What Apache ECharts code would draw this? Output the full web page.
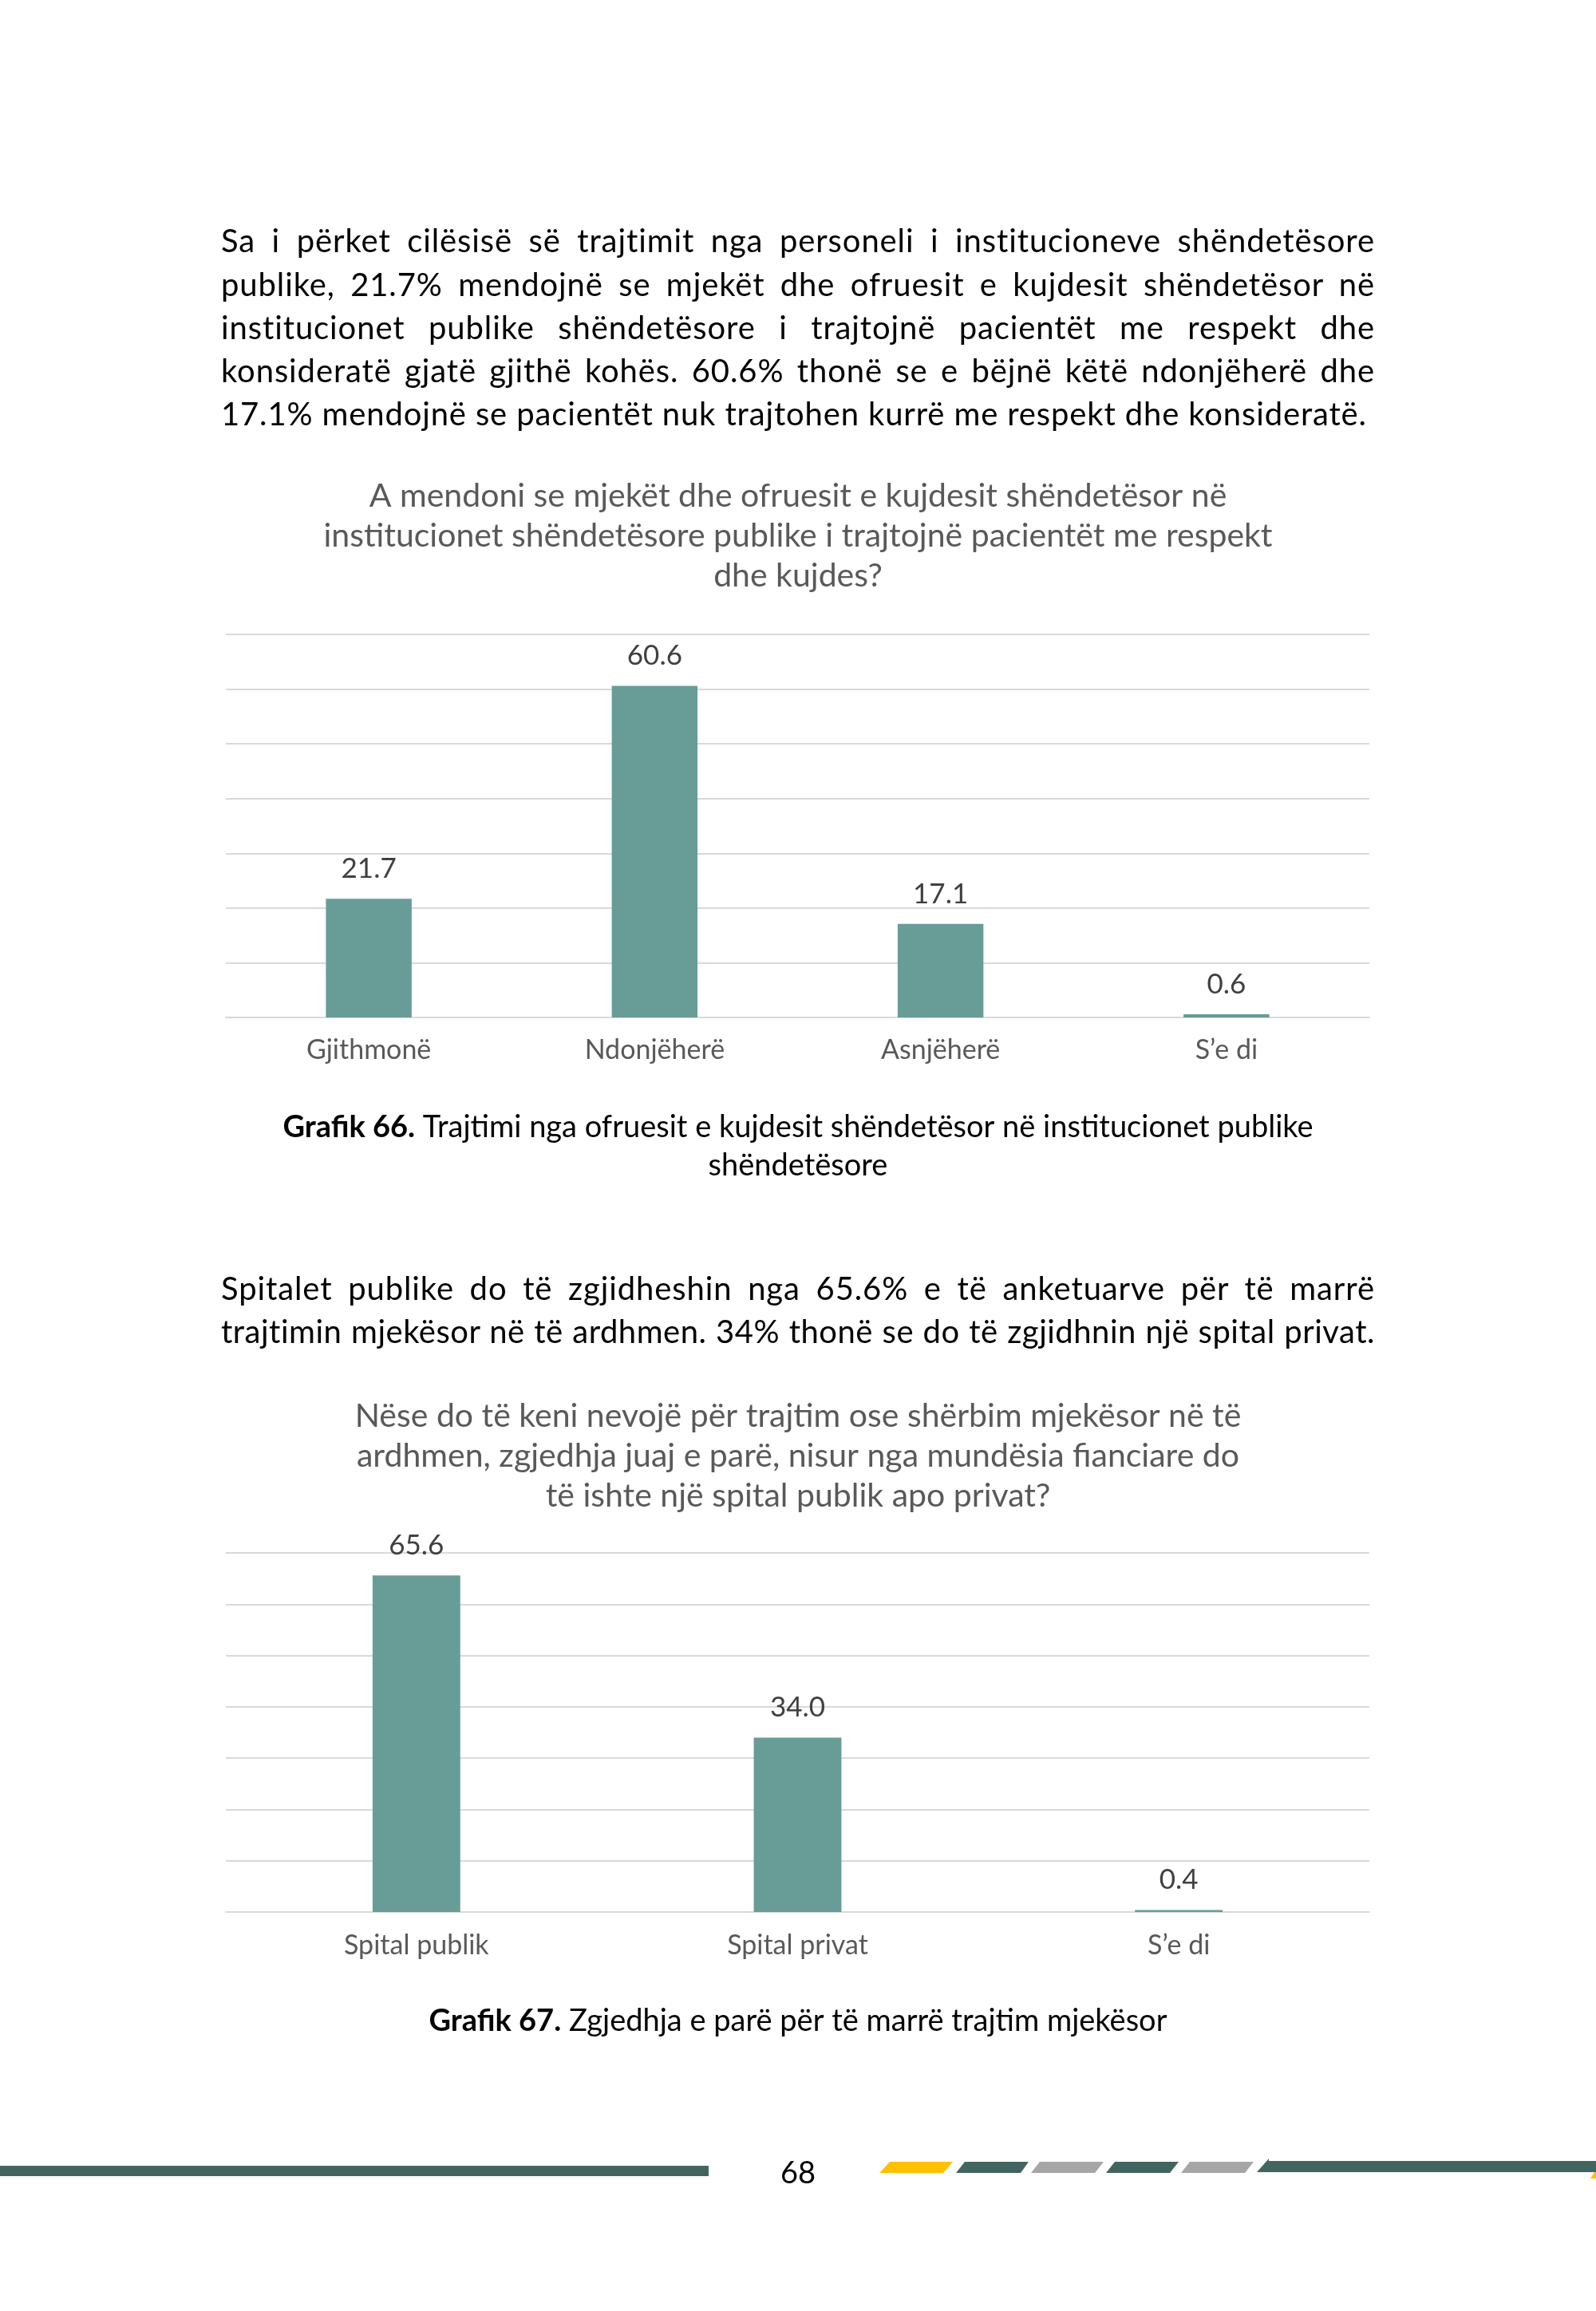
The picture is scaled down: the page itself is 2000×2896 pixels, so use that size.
<!DOCTYPE html>
<html>
<head>
<meta charset="utf-8">
<script src="https://cdn.jsdelivr.net/npm/echarts/dist/echarts.min.js"></script>
<style>
  html, body { margin: 0; padding: 0; background: #ffffff; }
  #page { position: relative; width: 2000px; height: 2896px; overflow: hidden; }
  #chart { position: absolute; left: 0; top: 0; width: 2000px; height: 2896px; }
  .ln { position: absolute; left: 277px; width: 1446px; height: 54px; line-height: 54px;
        font-family: Lato, "DejaVu Sans", sans-serif; font-size: 40px; color: #000;
        text-align: justify; text-align-last: justify; z-index: 2; white-space: nowrap; }
  .ln.last { text-align: left; text-align-last: left; }
  #meas { position: absolute; visibility: hidden; white-space: nowrap;
          font-family: Lato, "DejaVu Sans", sans-serif; font-size: 40px; letter-spacing: 0; }
</style>
</head>
<body>
<div id="page">
  <div id="chart"></div>
  <span id="meas"></span>
</div>
<script>
// ---------- data ----------
const para1 = [
  'Sa i përket cilësisë së trajtimit nga personeli i institucioneve shëndetësore',
  'publike, 21.7% mendojnë se mjekët dhe ofruesit e kujdesit shëndetësor në',
  'institucionet publike shëndetësore i trajtojnë pacientët me respekt dhe',
  'konsideratë gjatë gjithë kohës. 60.6% thonë se e bëjnë këtë ndonjëherë dhe',
  '17.1% mendojnë se pacientët nuk trajtohen kurrë me respekt dhe konsideratë.'
];
const para2 = [
  'Spitalet publike do të zgjidheshin nga 65.6% e të anketuarve për të marrë',
  'trajtimin mjekësor në të ardhmen. 34% thonë se do të zgjidhnin një spital privat.'
];
const title1 = 'A mendoni se mjekët dhe ofruesit e kujdesit shëndetësor në\ninstitucionet shëndetësore publike i trajtojnë pacientët me respekt\ndhe kujdes?';
const title2 = 'Nëse do të keni nevojë për trajtim ose shërbim mjekësor në të\nardhmen, zgjedhja juaj e parë, nisur nga mundësia fianciare do\ntë ishte një spital publik apo privat?';
const caption1Bold = 'Grafik 66.';
const caption1Text = ' Trajtimi nga ofruesit e kujdesit shëndetësor në institucionet publike\nshëndetësore';
const caption2Bold = 'Grafik 67.';
const caption2Text = ' Zgjedhja e parë për të marrë trajtim mjekësor';

const cats1 = ['Gjithmonë', 'Ndonjëherë', 'Asnjëherë', 'S’e di'];
const vals1 = [21.7, 60.6, 17.1, 0.6];
const cats2 = ['Spital publik', 'Spital privat', 'S’e di'];
const vals2 = [65.6, 34.0, 0.4];
const yMin = 0, yMax = 70, yStep = 10;
const pageNumber = '68';

// ---------- paragraphs (justified text) ----------
const page = document.getElementById('page');
const meas = document.getElementById('meas');
function addLines(lines, centers, lastPlain) {
  lines.forEach((t, i) => {
    meas.textContent = t;
    const w = meas.getBoundingClientRect().width;
    const n = t.length;
    const ls = Math.max(0, Math.min(0.9, (1436 - w) / n));
    const d = document.createElement('div');
    d.className = 'ln' + (lastPlain && i === lines.length - 1 ? ' last' : '');
    d.style.top = (centers[i] - 27) + 'px';
    d.style.letterSpacing = ls.toFixed(2) + 'px';
    d.textContent = t;
    page.appendChild(d);
  });
}
addLines(para1, [301, 356, 410, 464, 518], true);
addLines(para2, [1614, 1668], false);

// ---------- chart ----------
const FONT = 'Lato, "DejaVu Sans", sans-serif';
const BAR = '#679d96';
const GRID = '#d9d9d9';
const chart = echarts.init(document.getElementById('chart'), null, { renderer: 'canvas' });

function xAxisFor(cats, idx, margin) {
  return {
    type: 'category', gridIndex: idx, data: cats,
    axisTick: { show: false },
    axisLine: { lineStyle: { color: GRID, width: 2 } },
    axisLabel: { color: '#595959', fontFamily: FONT, fontSize: 34, margin: margin }
  };
}
function yAxisFor(idx) {
  return {
    type: 'value', gridIndex: idx, min: yMin, max: yMax, interval: yStep,
    axisLabel: { show: false }, axisLine: { show: false }, axisTick: { show: false },
    splitLine: { lineStyle: { color: GRID, width: 2 } }
  };
}
function barSeries(vals, idx, width) {
  return {
    type: 'bar', xAxisIndex: idx, yAxisIndex: idx, data: vals, barWidth: width,
    itemStyle: { color: BAR },
    label: {
      show: true, position: 'top', distance: 20,
      color: '#404040', fontFamily: FONT, fontSize: 35,
      formatter: p => p.value.toFixed(1)
    },
    silent: true, animation: false
  };
}
function captionTitle(boldTxt, txt, top) {
  return {
    text: '{b|' + boldTxt + '}' + txt,
    left: 'center', top: top, padding: 0,
    textStyle: {
      color: '#000', fontFamily: FONT, fontSize: 38, fontWeight: 'normal', lineHeight: 48,
      rich: { b: { color: '#000', fontFamily: FONT, fontSize: 38, fontWeight: 'bold', lineHeight: 48 } }
    }
  };
}

const option = {
  animation: false,
  backgroundColor: 'transparent',
  title: [
    { text: title1, left: 'center', top: 597, padding: 0,
      textStyle: { color: '#595959', fontFamily: FONT, fontSize: 41, fontWeight: 'normal', lineHeight: 50 } },
    { text: title2, left: 'center', top: 1750, padding: 0,
      textStyle: { color: '#595959', fontFamily: FONT, fontSize: 41, fontWeight: 'normal', lineHeight: 50 } },
    captionTitle(caption1Bold, caption1Text, 1389),
    captionTitle(caption2Bold, caption2Text, 2509)
  ],
  grid: [
    { left: 283, right: 284, top: 795, height: 480 },
    { left: 283, right: 284, top: 1946, height: 450 }
  ],
  xAxis: [xAxisFor(cats1, 0, 24), xAxisFor(cats2, 1, 25)],
  yAxis: [yAxisFor(0), yAxisFor(1)],
  series: [barSeries(vals1, 0, '30%'), barSeries(vals2, 1, '23%')],
  graphic: [
    // footer decoration
    { type: 'rect', shape: { x: 0, y: 2714, width: 888, height: 13 }, style: { fill: '#436560' } },
    { type: 'text', x: 1000, y: 2724, style: { text: pageNumber, fill: '#000', font: '38px ' + FONT, textAlign: 'center', textVerticalAlign: 'middle' } },
    { type: 'polygon', shape: { points: [[1102, 2723], [1115, 2709], [1194, 2709], [1182, 2723]] }, style: { fill: '#ffc000' } },
    { type: 'polygon', shape: { points: [[1198, 2723], [1209, 2709], [1289, 2709], [1279, 2723]] }, style: { fill: '#436560' } },
    { type: 'polygon', shape: { points: [[1292, 2723], [1303, 2709], [1383, 2709], [1372, 2723]] }, style: { fill: '#a6a6a6' } },
    { type: 'polygon', shape: { points: [[1386, 2723], [1397, 2709], [1477, 2709], [1466, 2723]] }, style: { fill: '#436560' } },
    { type: 'polygon', shape: { points: [[1480, 2723], [1491, 2709], [1571, 2709], [1560, 2723]] }, style: { fill: '#a6a6a6' } },
    { type: 'polygon', shape: { points: [[1575, 2722], [1590, 2705], [1590, 2722]] }, style: { fill: '#436560' } },
    { type: 'rect', shape: { x: 1590, y: 2708, width: 410, height: 14 }, style: { fill: '#436560' } },
    { type: 'polygon', shape: { points: [[1993, 2730], [1998, 2722], [2000, 2722], [2000, 2730]] }, style: { fill: '#ffc000' } }
  ]
};
chart.setOption(option);
</script>
</body>
</html>
